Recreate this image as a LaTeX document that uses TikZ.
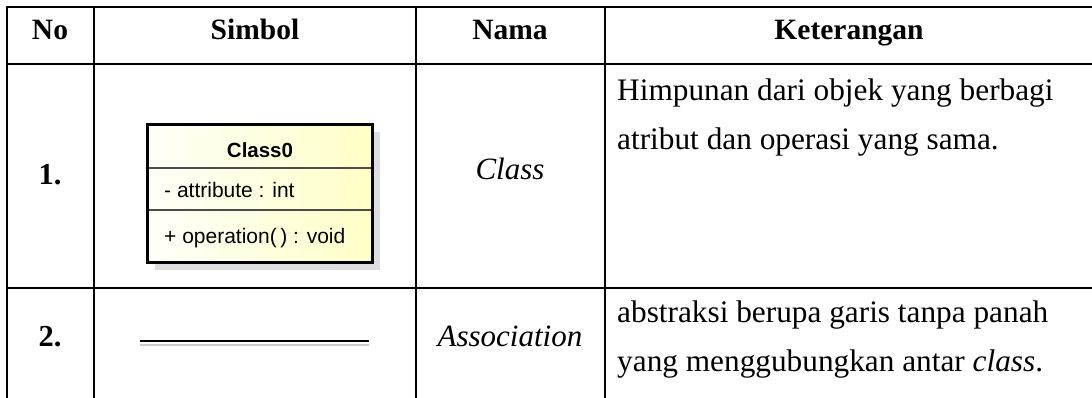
\documentclass[tikz,border=0pt]{standalone}
\usepackage{fontspec}
\setmainfont{Liberation Serif}
\newfontfamily\umlfont{Liberation Sans}
\usetikzlibrary{positioning}

\tikzset{
  gridline/.style={line width=2pt},
  hdr/.style={font=\fontsize{29.5}{35}\selectfont\bfseries, anchor=base},
  nomor/.style={font=\fontsize{30.5}{35}\selectfont\bfseries, anchor=base},
  nama/.style={font=\fontsize{31}{37}\selectfont\itshape, anchor=base},
  ket/.style={font=\fontsize{31.3}{37}\selectfont, anchor=base west, inner sep=0pt},
  umltext/.style={font=\umlfont\fontsize{21}{25}\selectfont, inner sep=0pt, anchor=base west}
}

\begin{document}
\begin{tikzpicture}[x=1pt,y=-1pt]
\useasboundingbox (0,0) rectangle (1092,397);

% table lines
\draw[gridline] (1096,7) -- (7,7) -- (7,400);
\draw[gridline] (7,64) -- (1096,64);
\draw[gridline] (7,288) -- (1096,288);
\foreach \x in {93.5,416,605}
  \draw[gridline] (\x,7) -- (\x,400);

% header
\node[hdr] (hno) at (50,39) {No};
\node[hdr] (hsimbol) at (255,39) {Simbol};
\node[hdr] (hnama) at (510,39) {Nama};
\node[hdr] (hket) at (849,39) {Keterangan};

% row 1
\node[nomor] (no1) at (50,184) {1.};
\fill[black!13] (155,132) rectangle (380,270);
\shade[left color=yellow!2, right color=yellow!22] (147,124) rectangle (372,262);
\draw[black!70, line width=1.2pt] (147,168) -- (372,168);
\draw[black!70, line width=1.2pt] (147,210) -- (372,210);
\draw[line width=3pt] (147,124) rectangle (372,262);
\node[umltext, anchor=base, font=\umlfont\fontsize{20.5}{24}\selectfont\bfseries] (cname) at (260,157) {Class0};
\node[umltext] (cattr) at (164,197) {- attribute : int};
\node[umltext] (coper) at (164,243) {+ operation(\,) : void};
\node[nama] (nclass) at (510,179) {Class};
\node[ket] (ket1a) at (617,100) {Himpunan dari objek yang berbagi};
\node[ket] (ket1b) at (617,149) {atribut dan operasi yang sama.};

% row 2
\node[nomor] (no2) at (50,346) {2.};
\coordinate (assocA) at (140,341);
\coordinate (assocB) at (369,341);
\draw[black!20, line width=2pt] ([yshift=-3.5pt]assocA) -- ([yshift=-3.5pt]assocB);
\draw[line width=1.6pt] (assocA) -- (assocB);
\node[nama] (nassoc) at (510,346) {Association};
\node[ket] (ket2a) at (617,322) {abstraksi berupa garis tanpa panah};
\node[ket] (ket2b) at (617,371) {yang menggubungkan antar \textit{class}.};
\end{tikzpicture}
\end{document}
